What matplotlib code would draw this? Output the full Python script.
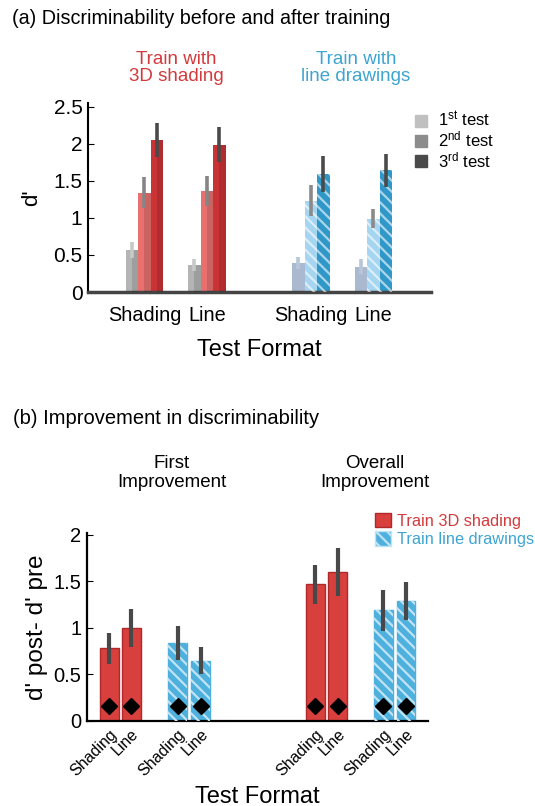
import matplotlib
matplotlib.use('Agg')
import matplotlib.pyplot as plt
from matplotlib.patches import Patch
from matplotlib.lines import Line2D

plt.rcParams['font.family'] = ['Liberation Sans', 'DejaVu Sans']
plt.rcParams['hatch.linewidth'] = 1.6

# (a) d' per test, groups: [3D-Shading, 3D-Line, LD-Shading, LD-Line]
test_formats = ['Shading', 'Line', 'Shading', 'Line']
test1 = [0.57, 0.37, 0.39, 0.34]
test1_err = [0.11, 0.08, 0.08, 0.10]
test2 = [1.34, 1.36, 1.23, 0.99]
test2_err = [0.21, 0.20, 0.21, 0.13]
test3 = [2.05, 1.99, 1.59, 1.64]
test3_err = [0.23, 0.23, 0.24, 0.22]
test_labels = ['1$\\mathregular{^{st}}$ test', '2$\\mathregular{^{nd}}$ test',
               '3$\\mathregular{^{rd}}$ test']

# (b) improvement, order: First(3D S, 3D L, LD S, LD L), Overall(same)
impr_labels = ['Shading', 'Line', 'Shading', 'Line'] * 2
impr = [0.78, 1.00, 0.84, 0.65, 1.47, 1.60, 1.19, 1.29]
impr_err = [0.17, 0.20, 0.18, 0.15, 0.21, 0.26, 0.22, 0.20]
impr_train = ['3D', '3D', 'LD', 'LD'] * 2
sig_marker = [0.16] * 8

RED = '#d8403d'
RED_DARK = '#b0282a'
RED_LIGHT = '#e8716f'
BLUE = '#4eb0dc'
BLUE_DARK = '#2f98c8'
BLUE_LIGHT = '#a5d5f0'
GREY_BLUE = '#a9b9cf'
ERR = '#484848'

fig = plt.figure(figsize=(5.35, 8.06), dpi=100)

# ---------- panel (a) ----------
ax = fig.add_axes([88/535, 1-292/806, 343/535, 189/806])
centers = [4.5, 9.5, 17.8, 22.8]
w = 1.0
styles = [
    # (values, errs, face 3D, face LD, err colour 3D, err colour LD, hatch LD)
    (test1, test1_err, '#b4b4b4', GREY_BLUE, '#c8c8c8', '#b9c6d8', None),
    (test2, test2_err, RED_LIGHT, BLUE_LIGHT, '#858585', '#8a8a8a', '\\\\\\'),
    (test3, test3_err, '#c93336', BLUE_DARK, '#4a4a4a', '#4a4a4a', '\\\\\\'),
]
for k, (vals, errs, c3d, cld, e3d, eld, htc) in enumerate(styles):
    for g in range(4):
        x = centers[g] + (k - 1) * w
        is3d = g < 2
        face = c3d if is3d else cld
        ax.bar(x, vals[g], width=w, color=face, linewidth=0, zorder=2)
        if is3d:
            # darker right half for the shaded look
            ax.bar(x + w/4, vals[g], width=w/2, color='black', alpha=0.12,
                   linewidth=0, zorder=3)
        elif htc:
            ax.bar(x, vals[g], width=w, fill=False, hatch=htc,
                   edgecolor='white', linewidth=0, alpha=0.6, zorder=3)
        ax.errorbar(x, vals[g], yerr=errs[g], fmt='none',
                    ecolor=e3d if is3d else eld, elinewidth=2.6, capsize=0,
                    zorder=4)

ax.set_xlim(0, 27.4)
ax.set_ylim(0, 2.55)
ax.set_yticks([0, 0.5, 1, 1.5, 2, 2.5])
ax.set_yticklabels(['0', '0.5', '1', '1.5', '2', '2.5'])
ax.set_xticks(centers)
ax.set_xticklabels(test_formats, fontsize=14.3)
ax.tick_params(axis='x', length=0, pad=10)
ax.tick_params(axis='y', direction='in', length=4, labelsize=15, pad=4)
for s in ['top', 'right']:
    ax.spines[s].set_visible(False)
ax.spines['bottom'].set_color('#444444')
ax.spines['bottom'].set_linewidth(2.5)
ax.spines['left'].set_linewidth(1.5)
ax.set_ylabel("d'", fontsize=16, labelpad=8)
ax.set_xlabel('Test Format', fontsize=17, labelpad=10)

leg_handles = [Line2D([], [], marker='s', linestyle='none', markersize=9,
                      color=c) for c in ['#c0c0c0', '#8c8c8c', '#4a4a4a']]
ax.legend(leg_handles, test_labels, loc='upper left', frameon=False,
          bbox_to_anchor=(398/535, 1-95/806), bbox_transform=fig.transFigure,
          fontsize=12, handletextpad=0.5, labelspacing=0.02, handlelength=1.0)

fig.text(12/535, 1-18/806, '(a) Discriminability before and after training',
         fontsize=14.2, va='center', ha='left')
fig.text(176/535, 1-68/806, 'Train with\n3D shading', color='#d23a3c',
         fontsize=13.5, ha='center', va='center', linespacing=1.05)
fig.text(356/535, 1-68/806, 'Train with\nline drawings', color='#3ea4d2',
         fontsize=13.5, ha='center', va='center', linespacing=1.05)

# ---------- panel (b) ----------
bx = fig.add_axes([87/535, 1-721/806, 341/535, 188/806])
xpos = [1.1, 2.2, 4.53, 5.68, 11.4, 12.53, 14.8, 15.95]
bw = 0.95
for i in range(8):
    if impr_train[i] == '3D':
        bx.bar(xpos[i], impr[i], width=bw, color=RED, edgecolor=RED_DARK,
               linewidth=1.0, zorder=2)
    else:
        bx.bar(xpos[i], impr[i], width=bw, color=BLUE, edgecolor=BLUE,
               linewidth=1.0, zorder=2)
        bx.bar(xpos[i], impr[i], width=bw, fill=False, hatch='\\\\\\',
               edgecolor='#bfe3f5', linewidth=0, zorder=3)
    bx.errorbar(xpos[i], impr[i], yerr=impr_err[i], fmt='none', ecolor=ERR,
                elinewidth=3, capsize=0, zorder=4)
bx.plot(xpos, sig_marker, linestyle='none', marker='D', markersize=8,
        color='black', zorder=5)

bx.set_xlim(0, 17.05)
bx.set_ylim(0, 2.02)
bx.set_yticks([0, 0.5, 1, 1.5, 2])
bx.set_yticklabels(['0', '0.5', '1', '1.5', '2'])
bx.set_xticks(xpos)
bx.set_xticklabels(impr_labels, rotation=45, ha='right', rotation_mode='anchor',
                   fontsize=11.5)
bx.tick_params(axis='x', length=0, pad=4)
bx.tick_params(axis='y', direction='in', length=4, labelsize=14.5, pad=4)
for s in ['top', 'right']:
    bx.spines[s].set_visible(False)
bx.spines['bottom'].set_linewidth(1.6)
bx.spines['left'].set_linewidth(1.6)
bx.set_ylabel("d' post- d' pre", fontsize=17.5, labelpad=4)
bx.set_xlabel('Test Format', fontsize=17, labelpad=5)

b_handles = [Patch(facecolor=RED, edgecolor=RED_DARK),
             Patch(facecolor=BLUE, edgecolor='#bfe3f5', hatch='\\\\\\')]
leg = bx.legend(b_handles, ['Train 3D shading', 'Train line drawings'],
                loc='upper left', frameon=False,
                bbox_to_anchor=(360/535, 1-498/806),
                bbox_transform=fig.transFigure, fontsize=11.8,
                handletextpad=0.35, labelspacing=0.15, handlelength=1.0,
                handleheight=1.0)
leg.get_texts()[0].set_color('#d23a3c')
leg.get_texts()[1].set_color('#3ea4d2')

fig.text(13/535, 1-419/806, '(b) Improvement in discriminability',
         fontsize=14.5, va='center', ha='left')
fig.text(172/535, 1-473/806, 'First\nImprovement', fontsize=13.5,
         ha='center', va='center', linespacing=1.1)
fig.text(375/535, 1-473/806, 'Overall\nImprovement', fontsize=13.5,
         ha='center', va='center', linespacing=1.1)

fig.savefig('out.png', dpi=100)
